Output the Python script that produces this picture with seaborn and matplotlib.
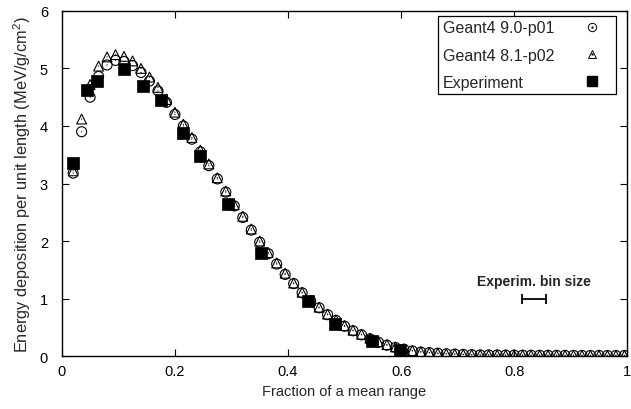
import matplotlib
matplotlib.use("Agg")
import matplotlib.pyplot as plt
from matplotlib.lines import Line2D
from matplotlib.legend_handler import HandlerTuple
import pandas as pd
import seaborn as sns

# Fraction of mean range for the simulated bins
sim_x = [0.020, 0.035, 0.050, 0.065, 0.080, 0.095, 0.110, 0.125, 0.140, 0.155,
         0.170, 0.185, 0.200, 0.215, 0.230, 0.245, 0.260, 0.275, 0.290, 0.305,
         0.320, 0.335, 0.350, 0.365, 0.380, 0.395, 0.410, 0.425, 0.440, 0.455,
         0.470, 0.485, 0.500, 0.515, 0.530, 0.545, 0.560, 0.575, 0.590, 0.605,
         0.620, 0.635, 0.650, 0.665, 0.680, 0.695, 0.710, 0.725, 0.740, 0.755,
         0.770, 0.785, 0.800, 0.815, 0.830, 0.845, 0.860, 0.875, 0.890, 0.905,
         0.920, 0.935, 0.950, 0.965, 0.980, 0.995]

# Geant4 9.0-p01
g4_90 = [3.18, 3.90, 4.50, 4.86, 5.06, 5.14, 5.12, 5.05, 4.93, 4.78,
         4.61, 4.41, 4.20, 4.00, 3.77, 3.55, 3.31, 3.08, 2.85, 2.61,
         2.41, 2.19, 1.98, 1.78, 1.60, 1.42, 1.26, 1.10, 0.96, 0.84,
         0.72, 0.62, 0.52, 0.44, 0.37, 0.30, 0.24, 0.19, 0.15, 0.12,
         0.09, 0.07, 0.06, 0.05, 0.04, 0.035, 0.03, 0.025, 0.02, 0.02,
         0.02, 0.018, 0.017, 0.016, 0.015, 0.015, 0.014, 0.014, 0.013, 0.013,
         0.012, 0.012, 0.012, 0.011, 0.011, 0.011]

# Geant4 8.1-p02
g4_81 = [3.22, 4.12, 4.72, 5.04, 5.20, 5.24, 5.21, 5.13, 5.00, 4.85,
         4.67, 4.46, 4.24, 4.03, 3.80, 3.58, 3.34, 3.10, 2.87, 2.63,
         2.43, 2.21, 2.00, 1.80, 1.62, 1.44, 1.27, 1.11, 0.97, 0.85,
         0.73, 0.63, 0.53, 0.45, 0.38, 0.31, 0.25, 0.20, 0.16, 0.125,
         0.095, 0.075, 0.06, 0.05, 0.04, 0.035, 0.03, 0.025, 0.02, 0.02,
         0.02, 0.018, 0.017, 0.016, 0.015, 0.015, 0.014, 0.014, 0.013, 0.013,
         0.012, 0.012, 0.012, 0.011, 0.011, 0.011]

# Measured data
exp_x = [0.020, 0.045, 0.063, 0.110, 0.144, 0.176, 0.215, 0.244, 0.294,
         0.353, 0.436, 0.483, 0.548, 0.598]
exp_y = [3.35, 4.63, 4.78, 4.99, 4.70, 4.45, 3.88, 3.48, 2.65,
         1.80, 0.96, 0.56, 0.26, 0.10]

# Experimental bin width indicator
bin_center = 0.835
bin_half_width = 0.0215
bin_level = 1.0

sim = pd.DataFrame({"x": sim_x, "g4_90": g4_90, "g4_81": g4_81})
exp = pd.DataFrame({"x": exp_x, "y": exp_y})

sns.set_style("ticks")
plt.rcParams["font.family"] = ["Liberation Sans", "DejaVu Sans"]
plt.rcParams["mathtext.default"] = "regular"

fig = plt.figure(figsize=(6.31, 4.10), dpi=100)
ax = fig.add_axes([0.098, 0.129, 0.896, 0.842])

ms_circle = 52
ms_tri = 50
ms_sq = 72
lw = 0.8

sns.scatterplot(data=sim, x="x", y="g4_90", marker="o", s=ms_circle,
                facecolor="none", edgecolor="black", linewidth=lw, ax=ax, zorder=3)
sns.scatterplot(data=sim, x="x", y="g4_90", marker=".", s=3,
                color="black", edgecolor="none", ax=ax, zorder=3)
sns.scatterplot(data=sim, x="x", y="g4_81", marker="^", s=ms_tri,
                facecolor="none", edgecolor="black", linewidth=lw, ax=ax, zorder=4)
sns.scatterplot(data=sim, x="x", y="g4_81", marker=".", s=3,
                color="black", edgecolor="none", ax=ax, zorder=4)
sns.scatterplot(data=exp, x="x", y="y", marker="s", s=ms_sq,
                color="black", edgecolor="black", linewidth=0.5, ax=ax, zorder=5)

ax.errorbar([bin_center], [bin_level], xerr=[bin_half_width], fmt="none",
            ecolor="black", elinewidth=1.3, capsize=3.5, capthick=1.3)
ax.text(bin_center, bin_level + 0.3, "Experim. bin size", ha="center",
        va="center", fontsize=10, fontweight="bold")

ax.set_xlim(0, 1)
ax.set_ylim(0, 6)
ax.set_xticks([0, 0.2, 0.4, 0.6, 0.8, 1.0])
ax.set_xticklabels(["0", "0.2", "0.4", "0.6", "0.8", "1"])
ax.set_yticks([0, 1, 2, 3, 4, 5, 6])
ax.tick_params(direction="in", top=True, right=True, length=5, width=0.8,
               labelsize=10.5, colors="black")
ax.tick_params(axis="x", pad=6)
ax.tick_params(axis="y", pad=10)
for sp in ax.spines.values():
    sp.set_linewidth(1.0)
    sp.set_color("black")

ax.set_xlabel("Fraction of a mean range", fontsize=10.5, labelpad=4)
ax.set_ylabel("Energy deposition per unit length (MeV/g/cm$^2$)",
              fontsize=11.8, labelpad=5)

h_circ = Line2D([], [], marker="o", ls="none", mfc="none", mec="black",
                ms=6.0, mew=0.7)
h_cdot = Line2D([], [], marker=".", ls="none", color="black", ms=1.3)
h_tri = Line2D([], [], marker="^", ls="none", mfc="none", mec="black",
               ms=6.3, mew=0.7)
h_tdot = Line2D([], [], marker=".", ls="none", color="black", ms=1.3)
h_sq = Line2D([], [], marker="s", ls="none", color="black", ms=7.2)

leg = ax.legend([(h_circ, h_cdot), (h_tri, h_tdot), h_sq],
                ["Geant4 9.0-p01", "Geant4 8.1-p02", "Experiment"],
                handler_map={tuple: HandlerTuple(ndivide=1, pad=0)},
                loc="upper right", bbox_to_anchor=(0.980, 0.9864),
                borderaxespad=0, markerfirst=False, fancybox=False,
                framealpha=1, edgecolor="black", fontsize=11.5,
                labelspacing=0.76, handlelength=2.4, handletextpad=1.0,
                borderpad=0.3)
leg.get_frame().set_linewidth(0.9)

# left-align the labels and push the markers to a common right column
for column in leg._legend_handle_box.get_children():
    for item in column.get_children():
        item.mode = "expand"
        item.width = 168

fig.savefig("out.png", dpi=100)
